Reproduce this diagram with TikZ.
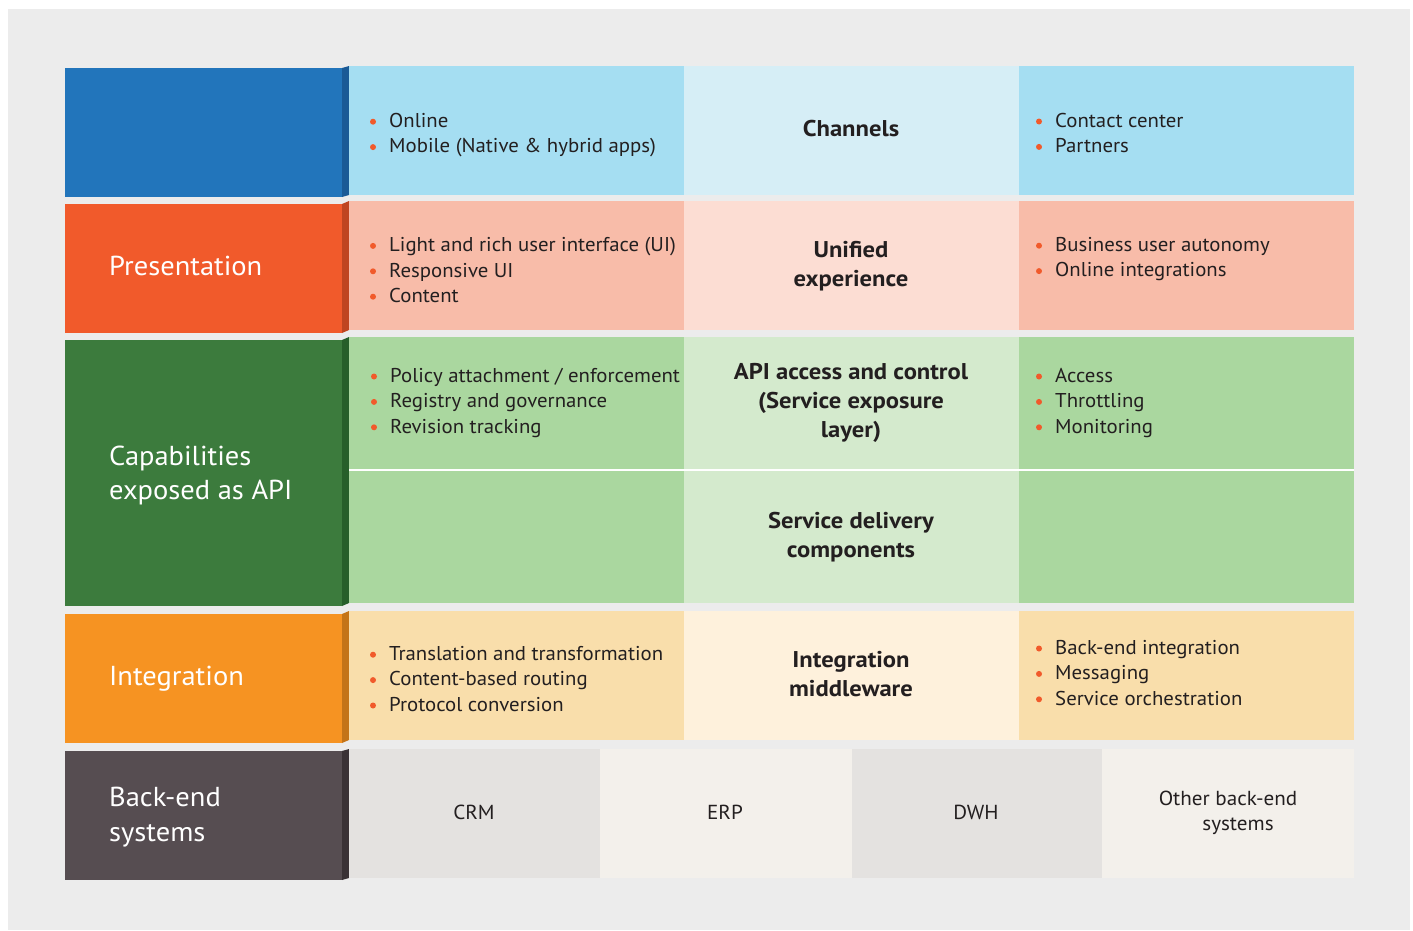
\documentclass[tikz,border=0pt]{standalone}
\usepackage{fontspec}
\setmainfont{PT Sans}[FakeStretch=1.04]
\newfontfamily\headfont{PT Sans Bold}[FakeStretch=1.08]
\definecolor{bggray}{HTML}{ECECEC}
\definecolor{txt}{HTML}{231F20}
\definecolor{bul}{HTML}{F15A2B}
% layer colours: label, label edge, side panels, middle panel
\definecolor{chA}{HTML}{2275BB}\definecolor{chE}{HTML}{1A5A96}
\definecolor{chP}{HTML}{A5DEF2}\definecolor{chM}{HTML}{D6EEF6}
\definecolor{prA}{HTML}{F15A2B}\definecolor{prE}{HTML}{BF4520}
\definecolor{prP}{HTML}{F8BCA9}\definecolor{prM}{HTML}{FCDDD3}
\definecolor{caA}{HTML}{3C7B3D}\definecolor{caE}{HTML}{275F2A}
\definecolor{caP}{HTML}{AAD79F}\definecolor{caM}{HTML}{D4EACD}
\definecolor{inA}{HTML}{F69322}\definecolor{inE}{HTML}{C47418}
\definecolor{inP}{HTML}{F9DEAB}\definecolor{inM}{HTML}{FEF1DC}
\definecolor{beA}{HTML}{564D51}\definecolor{beE}{HTML}{3A3235}
\definecolor{beD}{HTML}{E4E2E0}\definecolor{beL}{HTML}{F3F0EB}
\begin{document}
\begin{tikzpicture}[x=1pt,y=-1pt,
  box/.style={rectangle,draw=none,inner sep=0,outer sep=0,anchor=north west},
  item/.style={anchor=base west,inner sep=0,text=txt,font=\fontsize{20}{24}\selectfont},
  head/.style={anchor=base,inner sep=0,text=txt,font=\headfont\fontsize{22.8}{26}\selectfont},
  lab/.style={anchor=base west,inner sep=0,text=white,font=\fontsize{27.4}{32}\selectfont},
  sys/.style={anchor=base,inner sep=0,text=txt,font=\fontsize{20.3}{24}\selectfont}]
\useasboundingbox (0,0) rectangle (1413,930);
\fill[bggray] (8,9) rectangle (1410,930);

% ---- layer label blocks with their bevelled edge
\foreach \n/\c/\e/\lt/\lb/\pt/\pb in {ch/chA/chE/68/197/66/195, pr/prA/prE/204/333/201/330,
    ca/caA/caE/340/606/337/603, in/inA/inE/614/743/611/740, be/beA/beE/751/880/749/878}{
  \node[box,fill=\c,minimum width=277pt,minimum height={(\lb-\lt)*1pt}] (\n-label) at (65,\lt) {};
  \fill[\e] (342,\lt) -- (349,\pt) -- (349,\pb) -- (342,\lb) -- cycle;
}

% ---- panels
\foreach \n/\p/\m/\t/\b in {ch/chP/chM/66/195, pr/prP/prM/201/330, ca/caP/caM/337/603, in/inP/inM/611/740}{
  \node[box,fill=\p,minimum width=335pt,minimum height={(\b-\t)*1pt}] (\n-left) at (349,\t) {};
  \node[box,fill=\m,minimum width=335pt,minimum height={(\b-\t)*1pt}] (\n-mid) at (684,\t) {};
  \node[box,fill=\p,minimum width=335pt,minimum height={(\b-\t)*1pt}] (\n-right) at (1019,\t) {};
}
\draw[white,line width=1.3pt] (349,470) -- (1354,470);

% ---- back-end systems
\node[box,fill=beD,minimum width=251pt,minimum height=129pt] (crm) at (349,749) {};
\node[box,fill=beL,minimum width=252pt,minimum height=129pt] (erp) at (600,749) {};
\node[box,fill=beD,minimum width=250pt,minimum height=129pt] (dwh) at (852,749) {};
\node[box,fill=beL,minimum width=252pt,minimum height=129pt] (oth) at (1102,749) {};
\node[sys] (crm-t) at (474,819) {CRM};
\node[sys] (erp-t) at (725,819) {ERP};
\node[sys] (dwh-t) at (976,819) {DWH};
\node[sys] (oth-t1) at (1228,805) {Other back-end};
\node[sys] (oth-t2) at (1238,830.7) {systems};

% ---- layer labels
\node[lab] (pr-t) at (109,275.5) {Presentation};
\node[lab] (ca-t1) at (109,465.7) {Capabilities};
\node[lab] (ca-t2) at (109,499.5) {exposed as API};
\node[lab] (in-t) at (109,685.5) {Integration};
\node[lab] (be-t1) at (109,806.7) {Back-end};
\node[lab] (be-t2) at (109,841.5) {systems};

% ---- middle headings
\node[head] (h1) at (851,136.5) {Channels};
\node[head] (h2a) at (851,257.5) {Unified};
\node[head] (h2b) at (851,286.5) {experience};
\node[head] (h3a) at (851,379.3) {API access and control};
\node[head] (h3b) at (851,408.3) {(Service exposure};
\node[head] (h3c) at (851,437) {layer)};
\node[head] (h4a) at (851,528.3) {Service delivery};
\node[head] (h4b) at (851,557.3) {components};
\node[head] (h5a) at (851,667.3) {Integration};
\node[head] (h5b) at (851,696) {middleware};

% ---- bullet lists: name / text x / first baseline / items
\foreach \n/\x/\y/\items in {
    chL/389/127.5/{{Online},{Mobile (Native \& hybrid apps)}},
    chR/1055/127.3/{{Contact center},{Partners}},
    prL/389/251.7/{{Light and rich user interface (UI)},{Responsive UI},{Content}},
    prR/1055/251.5/{{Business user autonomy},{Online integrations}},
    caL/390/382.3/{{Policy attachment / enforcement},{Registry and governance},{Revision tracking}},
    caR/1055/382.3/{{Access},{Throttling},{Monitoring}},
    inL/389/660.5/{{Translation and transformation},{Content-based routing},{Protocol conversion}},
    inR/1055/654.3/{{Back-end integration},{Messaging},{Service orchestration}}}{
  \foreach \t [count=\i] in \items {
    \fill[bul] ({\x-16},{\y+(\i-1)*25.4-5.8}) circle (3);
    \node[item] (\n\i) at (\x,{\y+(\i-1)*25.4}) {\t};
  }
}
\end{tikzpicture}
\end{document}
